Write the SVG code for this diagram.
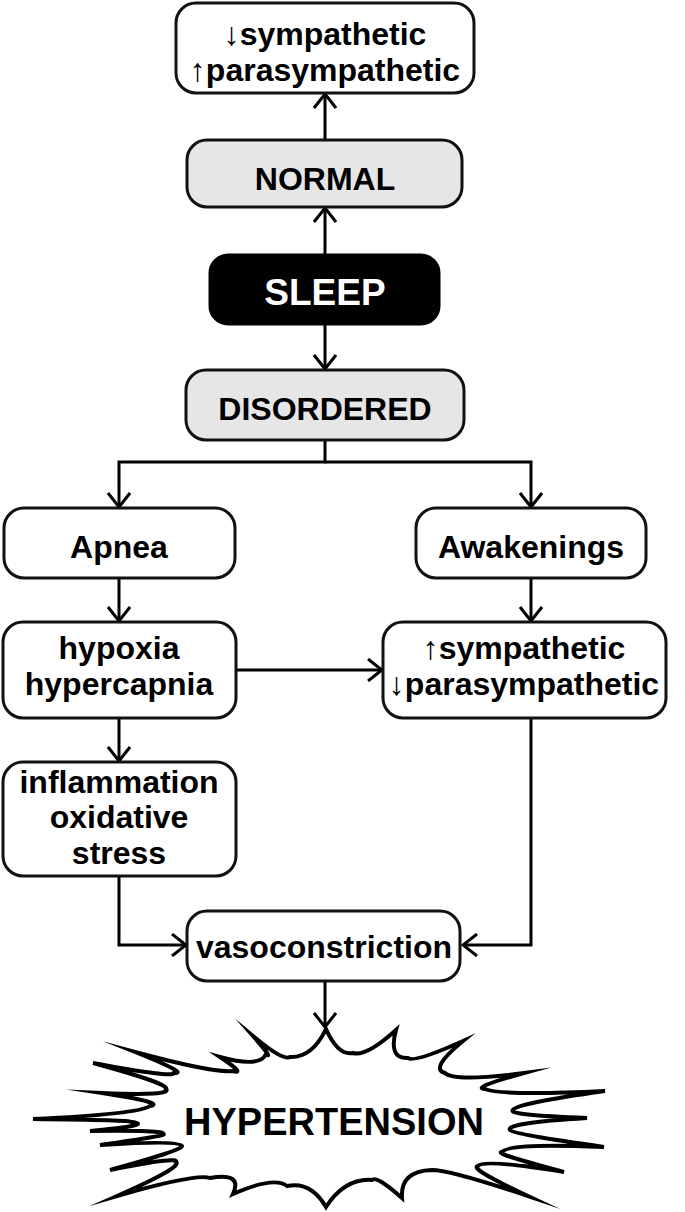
<svg xmlns="http://www.w3.org/2000/svg" width="685" height="1212" viewBox="0 0 685 1212">
<style>
.box{fill:#ffffff;stroke:#111;stroke-width:3}
.grey{fill:#e6e6e6;stroke:#111;stroke-width:3}
.dark{fill:#000;stroke:#000;stroke-width:3}
.t{font-family:"Liberation Sans",Arial,sans-serif;font-weight:bold;font-size:32px;fill:#000;text-anchor:middle}
.w{fill:#fff}
.c{fill:none;stroke:#000;stroke-width:3}
</style>
<defs>
<marker id="ah" viewBox="0 0 17 24" refX="15" refY="12" markerWidth="17" markerHeight="24" markerUnits="userSpaceOnUse" orient="auto">
<path d="M1,1 L15,12 L1,23" fill="none" stroke="#000" stroke-width="3"/>
</marker>
</defs>
<rect width="685" height="1212" fill="#fff"/>
<g id="connectors">
<path class="c" d="M325,140 V94" marker-end="url(#ah)"/>
<path class="c" d="M325,255 V208" marker-end="url(#ah)"/>
<path class="c" d="M325,324 V369" marker-end="url(#ah)"/>
<path class="c" d="M325,440 V462 H119 V507" marker-end="url(#ah)"/>
<path class="c" d="M325,462 H531 V507" marker-end="url(#ah)"/>
<path class="c" d="M119,578 V621" marker-end="url(#ah)"/>
<path class="c" d="M531,578 V621" marker-end="url(#ah)"/>
<path class="c" d="M236,670 H382" marker-end="url(#ah)"/>
<path class="c" d="M119,718 V761" marker-end="url(#ah)"/>
<path class="c" d="M119,876 V945 H186" marker-end="url(#ah)"/>
<path class="c" d="M531,718 V945 H463" marker-end="url(#ah)"/>
<path class="c" d="M325,981 V1027" marker-end="url(#ah)"/>
</g>
<g id="top">
<rect class="box" x="176" y="3" width="298" height="90" rx="20"/>
<text class="t" x="325" y="45">↓sympathetic</text>
<text class="t" x="325" y="81">↑parasympathetic</text>
</g>
<g id="normal">
<rect class="grey" x="187" y="140" width="275" height="67" rx="20"/>
<text class="t" x="325" y="190">NORMAL</text>
</g>
<g id="sleep">
<rect class="dark" x="210" y="255" width="229" height="69" rx="18"/>
<text class="t w" x="325" y="305" style="font-size:37px">SLEEP</text>
</g>
<g id="disordered">
<rect class="grey" x="186" y="370" width="278" height="70" rx="20"/>
<text class="t" x="325" y="420">DISORDERED</text>
</g>
<g id="apnea">
<rect class="box" x="4" y="508" width="231" height="70" rx="20"/>
<text class="t" x="119" y="558">Apnea</text>
</g>
<g id="awakenings">
<rect class="box" x="416" y="508" width="230" height="70" rx="20"/>
<text class="t" x="531" y="558">Awakenings</text>
</g>
<g id="hypoxia">
<rect class="box" x="3" y="622" width="233" height="96" rx="20"/>
<text class="t" x="119" y="659">hypoxia</text>
<text class="t" x="119" y="695">hypercapnia</text>
</g>
<g id="sympathetic">
<rect class="box" x="383" y="622" width="283" height="96" rx="20"/>
<text class="t" x="524" y="659">↑sympathetic</text>
<text class="t" x="524" y="695">↓parasympathetic</text>
</g>
<g id="inflammation">
<rect class="box" x="3" y="762" width="233" height="114" rx="20"/>
<text class="t" x="119" y="793">inflammation</text>
<text class="t" x="119" y="828">oxidative</text>
<text class="t" x="119" y="864">stress</text>
</g>
<g id="vasoconstriction">
<rect class="box" x="187" y="911" width="273" height="70" rx="20"/>
<text class="t" x="324" y="958">vasoconstriction</text>
</g>
<g id="hypertension">
<path fill="#fff" stroke="#000" stroke-width="4" stroke-linejoin="miter" stroke-miterlimit="20" d="M326,1029 Q338,1056 353,1053 Q366,1057 396,1030 Q388,1059 408,1058 Q414,1063 463,1041 Q429,1069 445,1073 Q454,1082 524,1073 Q470,1088 485,1089 Q502,1096 605,1091 Q513,1104 513,1110 Q506,1115 587,1118 Q505,1123 510,1130 Q512,1134 604,1147 Q508,1143 502,1152 Q492,1153 564,1172 Q483,1159 478,1166 Q468,1168 528,1196 Q450,1170 432,1170 Q400,1171 402,1198 Q376,1175 372,1180 Q345,1178 326,1207 Q311,1181 287,1186 Q274,1176 233,1194 Q243,1172 210,1178 Q197,1173 117,1196 Q183,1167 176,1162 Q180,1156 110,1170 Q183,1150 182,1146 Q179,1140 100,1145 Q171,1135 163,1134 Q167,1130 90,1131 Q155,1125 132,1122 Q132,1120 33,1119 Q139,1114 150,1106 Q167,1103 102,1093 Q173,1096 166,1089 Q170,1084 93,1063 Q173,1078 174,1073 Q190,1074 135,1052 Q213,1073 232,1071 Q247,1075 220,1057 Q260,1068 266,1054 Q274,1060 253,1036 Q283,1061 290,1057 Q312,1058 326,1029 Z"/>
<text class="t" x="334" y="1135" style="font-size:38px">HYPERTENSION</text>
</g>
</svg>
